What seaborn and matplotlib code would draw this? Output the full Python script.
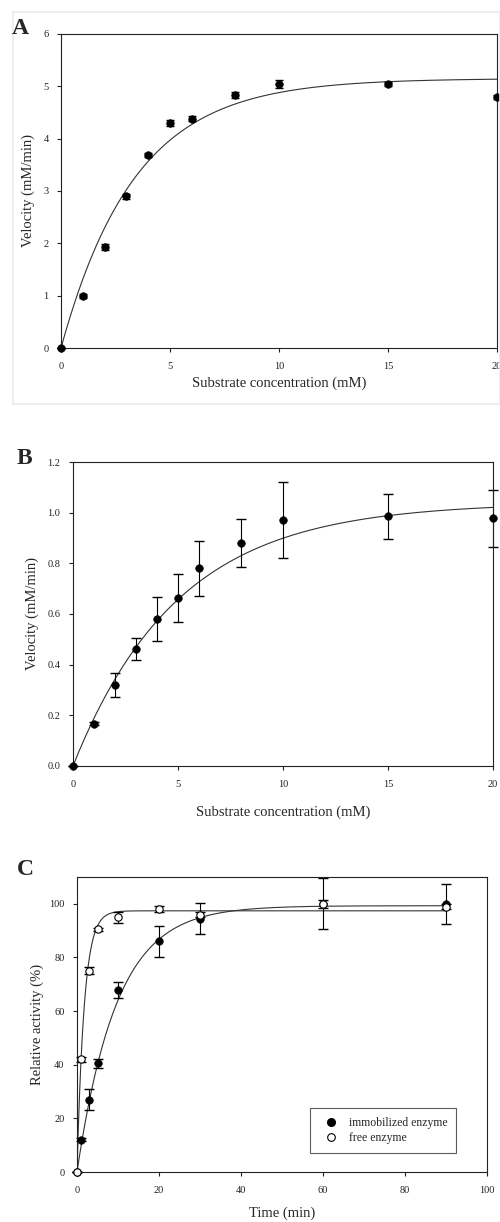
import numpy as np
import pandas as pd
import matplotlib
matplotlib.use("Agg")
import matplotlib.pyplot as plt
from matplotlib.lines import Line2D
from matplotlib.patches import Rectangle
import seaborn as sns

# ---- data ----
conc = [0, 1, 2, 3, 4, 5, 6, 8, 10, 15, 20]

vel_a = [0, 1.00, 1.93, 2.90, 3.69, 4.30, 4.38, 4.84, 5.05, 5.05, 4.80]
err_a = [0, 0.04, 0.05, 0.05, 0.04, 0.05, 0.05, 0.06, 0.08, 0.04, 0.04]

vel_b = [0, 0.167, 0.320, 0.462, 0.580, 0.662, 0.780, 0.882, 0.972, 0.985, 0.978]
err_b = [0, 0.005, 0.048, 0.045, 0.087, 0.095, 0.108, 0.095, 0.150, 0.088, 0.113]

time_min = [0, 1, 3, 5, 10, 20, 30, 60, 90]
act_immob = [0, 12, 27, 40.5, 68, 86, 94.5, 100, 100]
err_immob = [0, 0.5, 4.0, 1.8, 3.0, 5.8, 5.8, 9.5, 7.5]
act_free = [0, 42, 75, 90.5, 95, 98, 96, 100, 99]
err_free = [0, 1.0, 1.3, 0.5, 2.0, 1.2, 1.0, 1.5, 1.0]

# fitted curve parameters (plateau, rate) estimated from the drawn fits
fit_a = (5.15, 0.295)
fit_b = (1.04, 0.200)
fit_immob = (99.3, 0.1036)
fit_free = (97.4, 0.57)

sns.set_theme(style="ticks")
plt.rcParams['font.family'] = ['Liberation Serif', 'DejaVu Serif']
plt.rcParams['axes.linewidth'] = 0.8
plt.rcParams['xtick.major.size'] = 3
plt.rcParams['ytick.major.size'] = 3
plt.rcParams['xtick.major.width'] = 0.8
plt.rcParams['ytick.major.width'] = 0.8

LABEL_FS = 10.5
TICK_FS = 7.5


def fit_curve(xmax, params):
    xs = np.linspace(0, xmax, 300)
    top, k = params
    return pd.DataFrame({"x": xs, "y": top * (1 - np.exp(-k * xs))})


def style_axes(ax):
    for s in ax.spines.values():
        s.set_color("#222222")
        s.set_linewidth(0.8)
    ax.tick_params(axis="x", labelsize=TICK_FS, colors="#222222", pad=7)
    ax.tick_params(axis="y", labelsize=TICK_FS, colors="#222222", pad=6)


fig = plt.figure(figsize=(5, 12.22), dpi=100)

# faint frame around panel A
fig.patches.append(Rectangle((0.026, 0.669), 0.974, 0.321, transform=fig.transFigure,
                             fill=False, edgecolor="#e6ecf2", linewidth=1.2))

# ---------- panel A ----------
axA = fig.add_axes([0.122, 0.7152, 0.872, 0.257])
dfA = pd.DataFrame({"x": conc, "y": vel_a})
sns.lineplot(data=fit_curve(20, fit_a), x="x", y="y", ax=axA, color="#333333", lw=0.8)
axA.errorbar(conc, vel_a, yerr=err_a, fmt="none", ecolor="black", elinewidth=0.8,
             capsize=3, clip_on=False)
sns.scatterplot(data=dfA, x="x", y="y", ax=axA, color="black", s=30, edgecolor="black",
                clip_on=False, zorder=5)
axA.set_xlim(0, 20)
axA.set_ylim(0, 6)
axA.set_xticks([0, 5, 10, 15, 20])
axA.set_yticks(range(0, 7))
axA.set_xlabel("Substrate concentration (mM)", fontsize=LABEL_FS, labelpad=4)
axA.set_ylabel("Velocity (mM/min)", fontsize=LABEL_FS, labelpad=6)
style_axes(axA)
fig.text(0.024, 0.977, "A", fontsize=17, fontweight="bold", va="center")

# ---------- panel B ----------
axB = fig.add_axes([0.146, 0.3732, 0.84, 0.2487])
dfB = pd.DataFrame({"x": conc, "y": vel_b})
sns.lineplot(data=fit_curve(20, fit_b), x="x", y="y", ax=axB, color="#333333", lw=0.8)
axB.errorbar(conc, vel_b, yerr=err_b, fmt="none", ecolor="black", elinewidth=0.8,
             capsize=3.5, clip_on=False)
sns.scatterplot(data=dfB, x="x", y="y", ax=axB, color="black", s=30, edgecolor="black",
                clip_on=False, zorder=5)
axB.set_xlim(0, 20)
axB.set_ylim(0, 1.2)
axB.set_xticks([0, 5, 10, 15, 20])
axB.set_yticks(np.arange(0, 1.21, 0.2))
axB.set_yticklabels([f"{v:.1f}" for v in np.arange(0, 1.21, 0.2)])
axB.set_xlabel("Substrate concentration (mM)", fontsize=LABEL_FS, labelpad=12)
axB.set_ylabel("Velocity (mM/min)", fontsize=LABEL_FS, labelpad=6)
style_axes(axB)
fig.text(0.034, 0.6245, "B", fontsize=17, fontweight="bold", va="center")

# ---------- panel C ----------
axC = fig.add_axes([0.154, 0.0409, 0.82, 0.2414])
dfI = pd.DataFrame({"x": time_min, "y": act_immob})
dfF = pd.DataFrame({"x": time_min, "y": act_free})
sns.lineplot(data=fit_curve(90, fit_immob), x="x", y="y", ax=axC, color="#333333", lw=0.8)
sns.lineplot(data=fit_curve(90, fit_free), x="x", y="y", ax=axC, color="#333333", lw=0.8)
axC.errorbar(time_min, act_immob, yerr=err_immob, fmt="none", ecolor="black",
             elinewidth=0.8, capsize=3.5, clip_on=False)
axC.errorbar(time_min, act_free, yerr=err_free, fmt="none", ecolor="black",
             elinewidth=0.8, capsize=3.5, clip_on=False)
sns.scatterplot(data=dfI, x="x", y="y", ax=axC, color="black", s=30, edgecolor="black",
                clip_on=False, zorder=5)
sns.scatterplot(data=dfF, x="x", y="y", ax=axC, color="white", s=28, edgecolor="black",
                linewidth=0.8, clip_on=False, zorder=6)
axC.set_xlim(0, 100)
axC.set_ylim(0, 110)
axC.set_xticks(range(0, 101, 20))
axC.set_yticks(range(0, 101, 20))
axC.set_xlabel("Time (min)", fontsize=LABEL_FS, labelpad=8)
axC.set_ylabel("Relative activity (%)", fontsize=LABEL_FS, labelpad=4)
style_axes(axC)
handles = [
    Line2D([], [], ls="none", marker="o", ms=5.5, mfc="black", mec="black"),
    Line2D([], [], ls="none", marker="o", ms=5.5, mfc="white", mec="black", mew=0.8),
]
leg = axC.legend(handles, ["immobilized enzyme", "free enzyme"], loc="lower right",
                 bbox_to_anchor=(0.939, 0.044), fontsize=8.5, frameon=True,
                 fancybox=False, borderpad=0.75, handletextpad=0.35, labelspacing=0.3,
                 handlelength=2.2)
leg.get_frame().set_edgecolor("#333333")
leg.get_frame().set_linewidth(0.8)
fig.text(0.034, 0.2881, "C", fontsize=17, fontweight="bold", va="center")

fig.savefig("out.png", dpi=100)
